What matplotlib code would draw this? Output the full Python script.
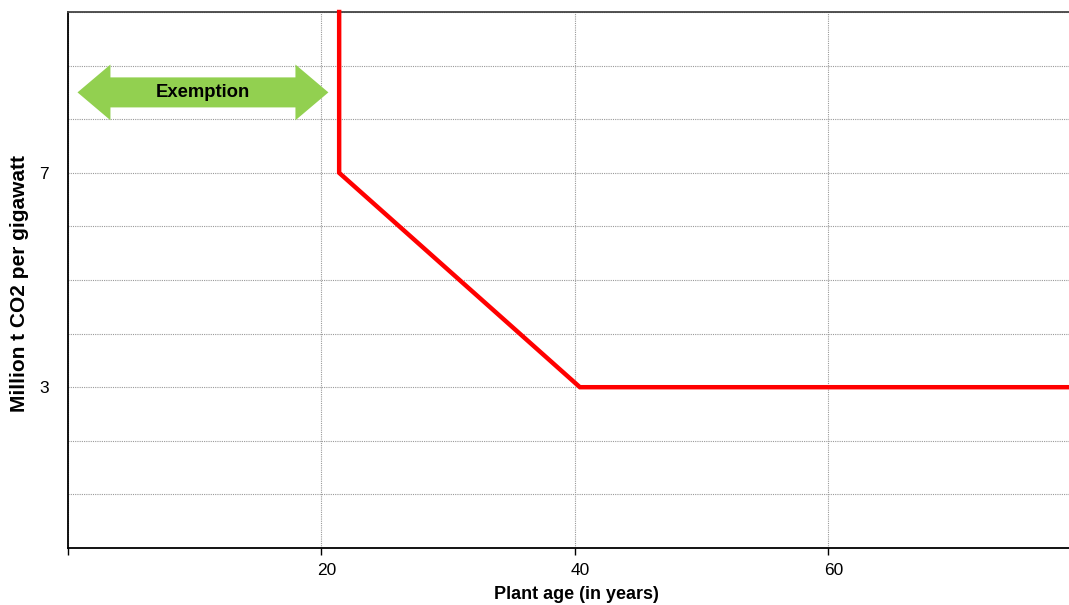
from matplotlib import pyplot as plt
from matplotlib.patches import Polygon
import matplotlib.transforms as mtransforms
import numpy as np

plt.rcParams['font.family'] = ['Liberation Sans', 'DejaVu Sans']

# CO2 limit by plant age
age = [21.4, 21.4, 40.4, 79.0]
limit = [10.0, 7.0, 3.0, 3.0]

xtick_vals = [0, 20, 40, 60]
xtick_labels = ['', '20', '40', '60']
ytick_vals = list(range(0, 11))
ytick_labels = ['' if v not in (3, 7) else str(v) for v in ytick_vals]

exempt_from = 0.75
exempt_to = 20.55
exempt_y = 8.5
exempt_text = 'Exemption'


def DoubleArrow(x0, x1, yc, head_len=2.6, head_half=0.52, shaft_half=0.28):
    pts = [
        (x0, yc),
        (x0 + head_len, yc + head_half),
        (x0 + head_len, yc + shaft_half),
        (x1 - head_len, yc + shaft_half),
        (x1 - head_len, yc + head_half),
        (x1, yc),
        (x1 - head_len, yc - head_half),
        (x1 - head_len, yc - shaft_half),
        (x0 + head_len, yc - shaft_half),
        (x0 + head_len, yc - head_half),
    ]
    return Polygon(pts, closed=True, facecolor='#92D050', edgecolor='none', zorder=3)


fig = plt.figure(figsize=(10.69, 6.05), dpi=100)
ax = fig.add_axes([68/1069, 1-548/605, 1-68/1069, (548-12)/605])

ax.plot(age, limit, color='#FF0000', lw=3.2, solid_joinstyle='miter', zorder=4, clip_on=False)

ax.add_patch(DoubleArrow(exempt_from, exempt_to, exempt_y))
ax.text((exempt_from + exempt_to)/2, exempt_y, exempt_text, ha='center', va='center',
        fontsize=13.3, fontweight='bold', color='black', zorder=5)

ax.set_xlim(0, 79)
ax.set_ylim(0, 10)
ax.set_xticks(xtick_vals)
ax.set_xticklabels(xtick_labels, fontsize=12.5)
ax.set_yticks(ytick_vals)
ax.set_yticklabels(ytick_labels, fontsize=12.5)
ax.tick_params(axis='x', length=5, width=1, direction='out', pad=6)
ax.tick_params(axis='y', length=0, pad=14)

# labels sit a little right of their ticks
shift = mtransforms.ScaledTranslation(5/100, 0, fig.dpi_scale_trans)
for lbl in ax.get_xticklabels():
    lbl.set_transform(lbl.get_transform() + shift)

ax.grid(True, linestyle=(0, (1, 1)), color='#999999', lw=0.8, zorder=0)

ax.spines['right'].set_visible(False)
ax.spines['top'].set_color('#444444')
ax.spines['top'].set_linewidth(1.3)
ax.spines['left'].set_linewidth(1.3)
ax.spines['bottom'].set_linewidth(1.3)

ax.set_xlabel('Plant age (in years)', fontsize=13, fontweight='bold')
ax.set_ylabel('Million t CO2 per gigawatt', fontsize=15, fontweight='bold')
ax.xaxis.set_label_coords((576 - 68) / (1069 - 68), -(586 - 548) / (548 - 12))
ax.yaxis.set_label_coords(-(68 - 29) / (1069 - 68), (548 - 284) / (548 - 12))

fig.savefig('out.png', dpi=100)
